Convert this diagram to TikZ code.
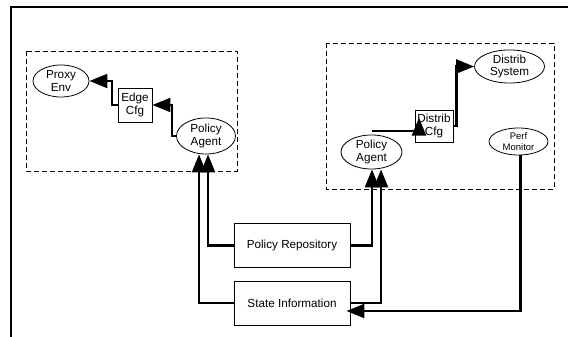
\documentclass[tikz,border=0pt]{standalone}
\usepackage{fontspec}
\setmainfont{Liberation Sans}
\usetikzlibrary{arrows.meta,shapes.geometric}
\tikzset{
	agent/.style={draw, ellipse, line width=0.8pt, inner sep=0pt, align=center,
			font=\fontsize{11.7}{12.5}\selectfont},
	cfgbox/.style={draw, rectangle, line width=0.8pt, inner sep=0pt, align=center,
			font=\fontsize{11.7}{12.5}\selectfont},
	store/.style={draw, rectangle, line width=0.8pt, inner sep=0pt,
			minimum width=116pt, minimum height=44pt, font=\fontsize{11.7}{13}\selectfont},
	zone/.style={draw, dash pattern=on 5pt off 3pt, line width=0.8pt},
	link/.style={->, line width=2.2pt}
}

\begin{document}
\begin{tikzpicture}[x=1pt, y=-1pt, line join=miter, >={Triangle[length=18pt,width=14pt]}]
			\useasboundingbox (0,0) rectangle (568,337);
			% Frame
			\draw[line width=1.3pt] (11,337) -- (11,7) -- (568,7);
			
			% Dashed zones
			\draw[zone] (26,51) rectangle (237,171);
			\draw[zone] (326,43) rectangle (554,189);
			
			% Edge side
			\node[agent, minimum width=56pt, minimum height=32pt] (proxy) at (61,81) {Proxy\\Env};
			\node[cfgbox, minimum width=34pt, minimum height=34pt] (edgecfg) at (135,105) {Edge\\Cfg};
			\node[agent, minimum width=59pt, minimum height=36pt] (agentL) at (206,136) {Policy\\Agent};
			
			% Distribution side
			\node[agent, minimum width=61pt, minimum height=34pt] (agentR) at (371.5,152) {Policy\\Agent};
			\node[cfgbox, minimum width=38pt, minimum height=32pt] (distcfg) at (434,126) {Distrib\\Cfg};
			\node[agent, minimum width=70pt, minimum height=33pt] (distsys) at (509.5,66.5) {Distrib\\System};
			\node[agent, minimum width=59pt, minimum height=27pt, font=\fontsize{9.5}{11}\selectfont] (perf) at (518.5,141.5) {Perf\\Monitor};
			
			% Stores
			\node[store] (repo) at (292,245.5) {Policy Repository};
			\node[store] (state) at (292,303) {State Information};
			
			% Links in the left zone
			\draw[link] (edgecfg.west) -- ++(-6,0) |- (proxy.east);
			\draw[link] (agentL.west) -- ++(-4,0) |- (edgecfg.east);
			
			% Links in the right zone
			\draw[link] ([yshift=4pt]agentR.north) -| ([xshift=-15pt,yshift=-8pt]distcfg.north);
			\draw[link] (distcfg.east) -- ++(3,0) |- (distsys.west);
			
			% Stores to agents
			\draw[link] (repo.west) -| ([xshift=2pt]agentL.south);
			\draw[link] (state.west) -| ([xshift=-7pt]agentL.south);
			\draw[link] (repo.east) -| ([xshift=0.5pt]agentR.south);
			\draw[link] (state.east) -| ([xshift=9.5pt]agentR.south);
			
			% Monitor feed
			\draw[link] ([xshift=2pt]perf.south) |- ([xshift=-4pt,yshift=-8pt]state.east);
		\end{tikzpicture}
\end{document}
